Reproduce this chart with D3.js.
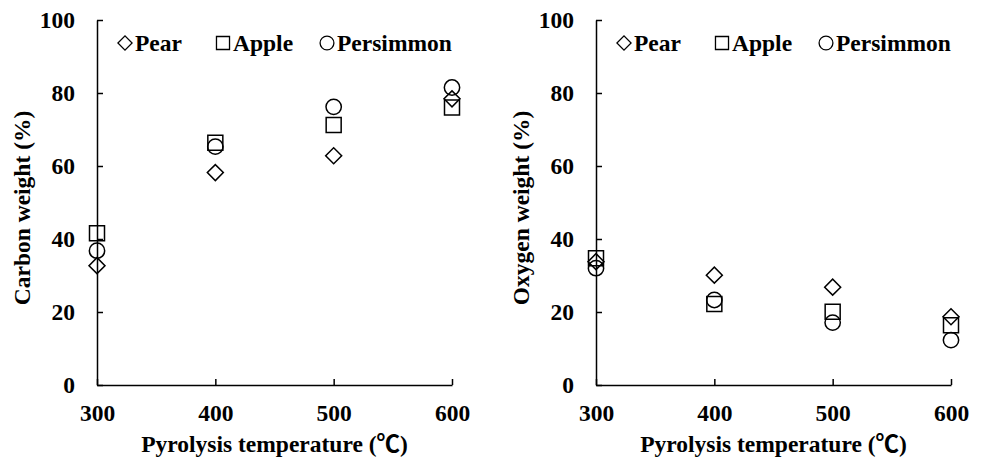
<!DOCTYPE html>
<html lang="en">
  <head>
    <meta charset="utf-8" />
    <script src="https://d3js.org/d3.v7.min.js"></script>
    <style>
      body {
        margin: 0;
        background-color: white;
      }
      text {
        font-family: "Liberation Serif", "Times New Roman", "Noto Sans CJK SC", serif;
        font-weight: bold;
        fill: black;
      }
    </style>
    <title>Carbon and oxygen weight vs pyrolysis temperature</title>
  </head>

  <body>
    <svg id="chart" width="984" height="461"></svg>

    <script>
      // values
      const temps = [300, 400, 500, 600];
      const xTicks = [300, 400, 500, 600];
      const yTicks = [0, 20, 40, 60, 80, 100];
      const seriesNames = ["Pear", "Apple", "Persimmon"];

      const carbonPear = [32.7, 58.2, 62.8, 78.4];
      const carbonApple = [41.6, 66.4, 71.2, 76.0];
      const carbonPersimmon = [36.8, 65.3, 76.2, 81.5];

      const oxygenPear = [33.8, 30.1, 26.8, 18.7];
      const oxygenApple = [34.7, 22.2, 20.1, 16.4];
      const oxygenPersimmon = [32.0, 23.3, 17.1, 12.3];

      const svg = d3.select("svg#chart");
      const fontSize = "23.5px";

      const symbols = {
        Pear: { type: d3.symbolSquare, size: 128, rotate: 45 },
        Apple: { type: d3.symbolSquare, size: 225, rotate: 0 },
        Persimmon: { type: d3.symbolCircle, size: 185, rotate: 0 },
      };
      const legendSymbols = {
        Pear: { type: d3.symbolSquare, size: 100, rotate: 45 },
        Apple: { type: d3.symbolSquare, size: 170, rotate: 0 },
        Persimmon: { type: d3.symbolCircle, size: 150, rotate: 0 },
      };

      function drawPanel(left, yTitle, series) {
        const x = d3.scaleLinear().domain([300, 600]).range([left, left + 355]);
        const y = d3.scaleLinear().domain([0, 100]).range([385, 20]);

        const g = svg.append("g");

        // y axis, ticks pointing inward
        const yAxisG = g
          .append("g")
          .attr("transform", `translate(${left},0)`)
          .call(
            d3
              .axisLeft(y)
              .tickValues(yTicks)
              .tickSizeInner(-6)
              .tickSizeOuter(0)
              .tickPadding(22)
          );
        yAxisG.selectAll("text").attr("font-size", fontSize).attr("fill", "black");

        const xAxisG = g
          .append("g")
          .attr("transform", `translate(0,${y(0)})`)
          .call(
            d3
              .axisBottom(x)
              .tickValues(xTicks)
              .tickSizeInner(-6)
              .tickSizeOuter(0)
              .tickPadding(19)
          );
        xAxisG.selectAll("text").attr("font-size", fontSize).attr("fill", "black");

        g.selectAll(".domain, .tick line")
          .attr("stroke", "black")
          .attr("stroke-width", 1.5);

        // axis titles
        g.append("text")
          .attr("text-anchor", "middle")
          .attr("x", x(450))
          .attr("y", 452)
          .attr("font-size", fontSize)
          .text("Pyrolysis temperature (℃)");

        g.append("text")
          .attr("text-anchor", "middle")
          .attr("transform", `translate(${left - 67},${y(48.5)}) rotate(-90)`)
          .attr("font-size", fontSize)
          .text(yTitle);

        // markers
        seriesNames.forEach((name, i) => {
          const s = symbols[name];
          g.selectAll(`path.m${i}`)
            .data(series[i])
            .join("path")
            .attr("class", `m${i}`)
            .attr("d", d3.symbol().type(s.type).size(s.size))
            .attr(
              "transform",
              (d, j) => `translate(${x(temps[j])},${y(d)}) rotate(${s.rotate})`
            )
            .attr("fill", "none")
            .attr("stroke", "black")
            .attr("stroke-width", 1.5);
        });

        // legend
        const legendX = [28, 126, 230];
        const legend = g
          .append("g")
          .attr("transform", `translate(${left},0)`)
          .selectAll("g")
          .data(seriesNames)
          .join("g")
          .attr("transform", (d, i) => `translate(${legendX[i]},43)`);

        legend
          .append("path")
          .attr("d", d => d3.symbol().type(legendSymbols[d].type).size(legendSymbols[d].size)())
          .attr("transform", d => `rotate(${legendSymbols[d].rotate})`)
          .attr("fill", "none")
          .attr("stroke", "black")
          .attr("stroke-width", 1.3);

        legend
          .append("text")
          .attr("x", 10)
          .attr("y", 8)
          .attr("font-size", fontSize)
          .text(d => d);
      }

      drawPanel(97, "Carbon weight (%)", [carbonPear, carbonApple, carbonPersimmon]);
      drawPanel(596, "Oxygen weight (%)", [oxygenPear, oxygenApple, oxygenPersimmon]);
    </script>
  </body>
</html>
